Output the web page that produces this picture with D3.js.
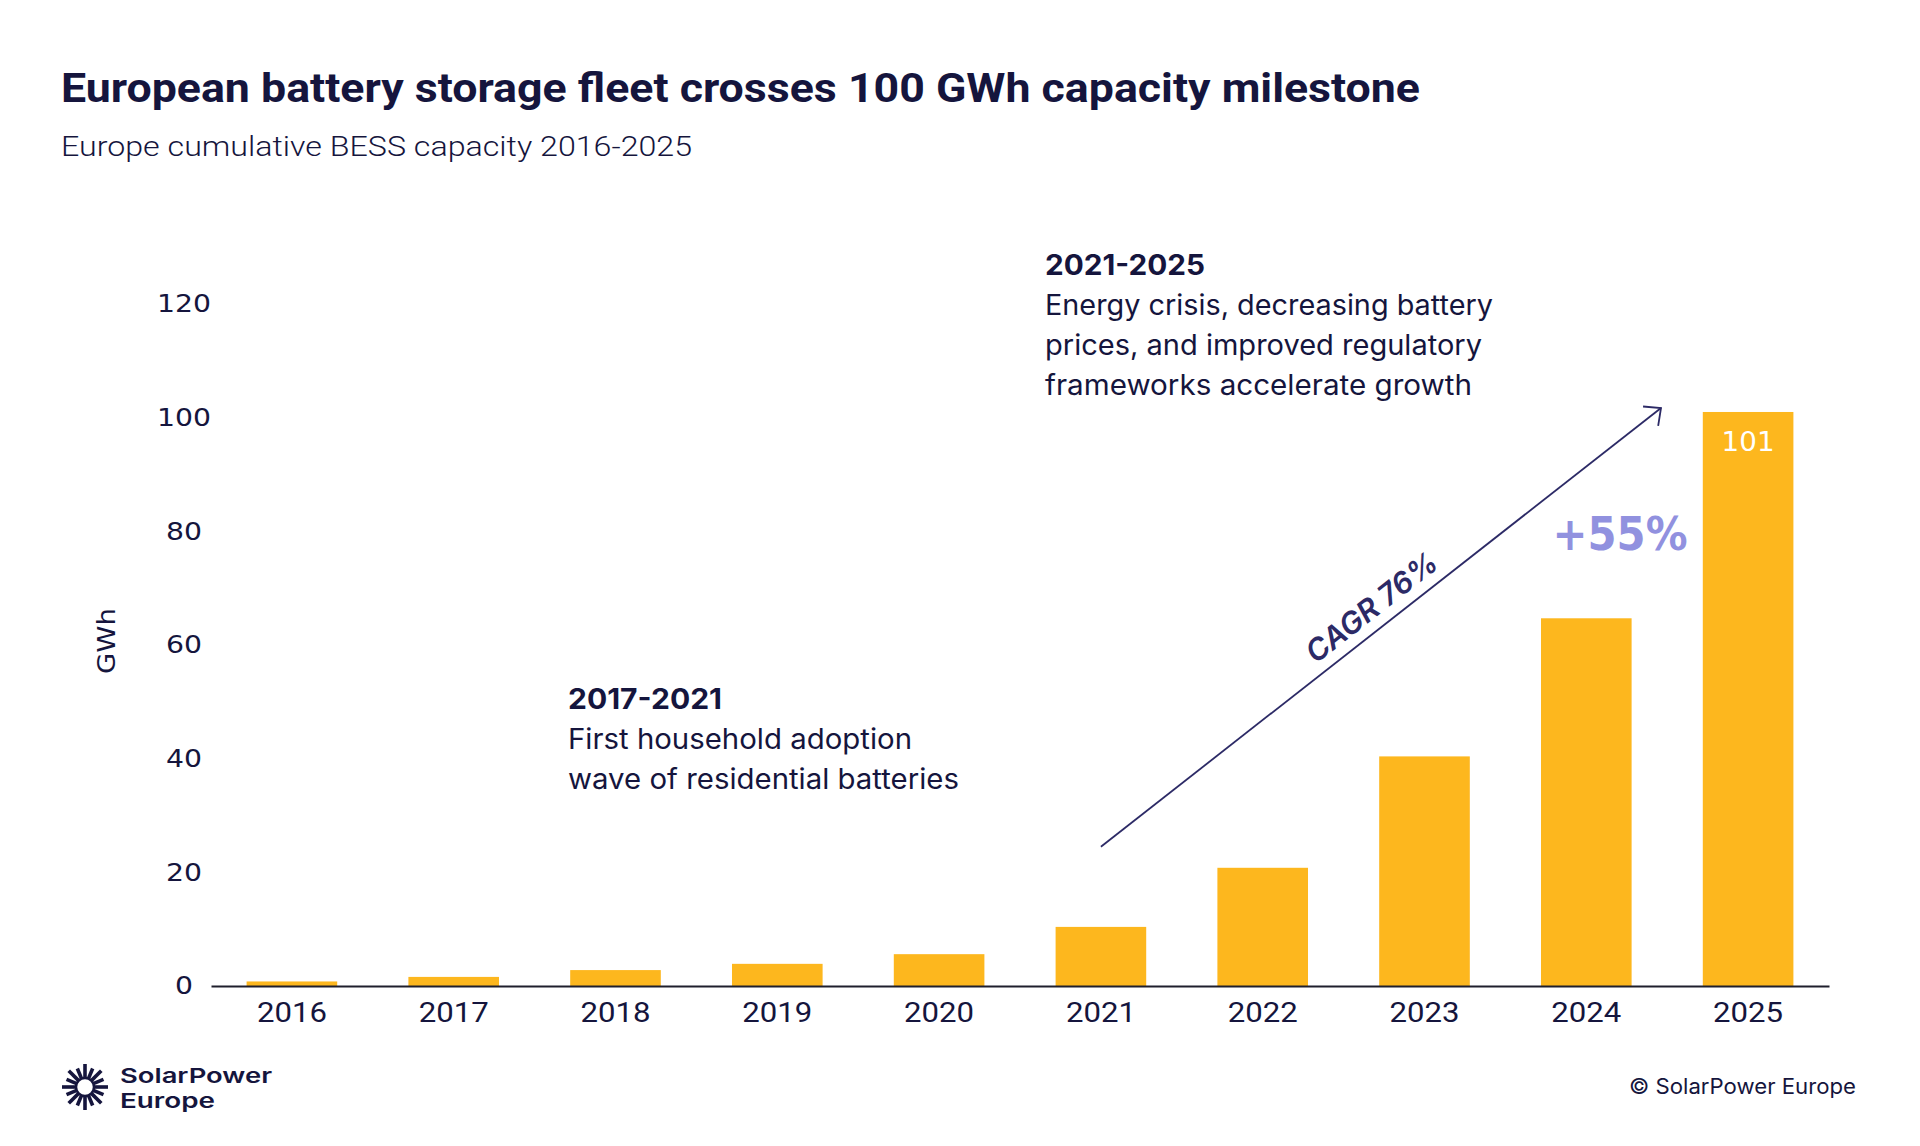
<!DOCTYPE html>
<html>
<head>
<meta charset="utf-8">
<script src="https://cdn.jsdelivr.net/npm/d3@7"></script>
<style>
  html, body { margin: 0; padding: 0; background: #ffffff; }
  svg { display: block; }
</style>
</head>
<body>
<svg id="chart" width="1920" height="1146"></svg>
<script>
// ---- Data ----
const years = ["2016","2017","2018","2019","2020","2021","2022","2023","2024","2025"];
const capacityGWh = [0.8, 1.6, 2.8, 3.9, 5.6, 10.4, 20.8, 40.4, 64.7, 101];
const yTicks = [0, 20, 40, 60, 80, 100, 120];
const labelledYear = "2025";
const labelledValue = "101";
const growthLabel = "+55%";
const cagrLabel = "CAGR 76%";
const title = "European battery storage fleet crosses 100 GWh capacity milestone";
const subtitle = "Europe cumulative BESS capacity 2016-2025";
const yAxisTitle = "GWh";
const note1Head = "2017-2021";
const note1Lines = ["First household adoption", "wave of residential batteries"];
const note2Head = "2021-2025";
const note2Lines = ["Energy crisis, decreasing battery", "prices, and improved regulatory", "frameworks accelerate growth"];
const logoLines = ["SolarPower", "Europe"];
const copyright = "© SolarPower Europe";

// ---- Styles ----
const navy = "#15153d";
const barColor = "#FDB71E";
const arrowColor = "#2c2a66";
const lavender = "#9191df";

const svg = d3.select("#chart");

const x = d3.scaleBand().domain(years).range([211, 1829]).paddingInner(0.44).paddingOuter(0.22);
const y = d3.scaleLinear().domain([0, 120]).range([986, 304]);

function txt(sel, s, opts) {
  const t = sel.append("text").text(s);
  for (const k in opts) t.attr(k, opts[k]);
  return t;
}

// Title & subtitle
txt(svg, title, {x: 61, y: 102, "font-family": "Roboto, Inter, sans-serif", "font-weight": 700,
  "font-size": 40, fill: navy, textLength: 1359, lengthAdjust: "spacingAndGlyphs"});
txt(svg, subtitle, {x: 61, y: 156, "font-family": "Roboto, Inter, sans-serif", "font-weight": 300,
  "font-size": 27, fill: navy, textLength: 631, lengthAdjust: "spacingAndGlyphs"});

// Bars
svg.append("g").selectAll("rect").data(years).join("rect")
  .attr("x", d => x(d))
  .attr("width", x.bandwidth())
  .attr("y", (d, i) => y(capacityGWh[i]))
  .attr("height", (d, i) => y(0) - y(capacityGWh[i]))
  .attr("fill", barColor);

// X axis
const gx = svg.append("g").attr("transform", `translate(0,${y(0)})`)
  .call(d3.axisBottom(x).tickSize(0).tickSizeOuter(0).tickPadding(17));
gx.select(".domain").attr("stroke", "#1f1f2c").attr("stroke-width", 2.2);
gx.selectAll(".tick text")
  .attr("font-family", "Roboto, Inter, sans-serif").attr("font-size", 27).attr("font-weight", 400)
  .attr("fill", navy).attr("dy", "0.71em")
  .attr("textLength", 70).attr("lengthAdjust", "spacingAndGlyphs");

// Y axis labels (no line)
const gy = svg.append("g").attr("transform", "translate(184,0)")
  .call(d3.axisLeft(y).tickValues(yTicks).tickSize(0).tickPadding(0));
gy.select(".domain").remove();
gy.selectAll(".tick text")
  .attr("text-anchor", "middle").attr("x", 0)
  .attr("font-family", "'DejaVu Sans', sans-serif").attr("font-size", 24)
  .attr("fill", navy)
  .attr("textLength", d => String(d).length * 18)
  .attr("lengthAdjust", "spacingAndGlyphs");

// Y axis title
txt(svg, yAxisTitle, {transform: "translate(115,641) rotate(-90)", "text-anchor": "middle",
  "font-family": "'DejaVu Sans', sans-serif", "font-size": 24, fill: navy,
  textLength: 66, lengthAdjust: "spacingAndGlyphs"});

// Value label in 2025 bar
const iLab = years.indexOf(labelledYear);
txt(svg, labelledValue, {x: x(labelledYear) + x.bandwidth() / 2, y: y(capacityGWh[iLab]) + 39,
  "text-anchor": "middle", "font-family": "'DejaVu Sans', sans-serif", "font-size": 26,
  fill: "#ffffff", textLength: 53, lengthAdjust: "spacingAndGlyphs"});

// Growth label
txt(svg, growthLabel, {x: 1620, y: 550, "text-anchor": "middle",
  "font-family": "'DejaVu Sans', sans-serif", "font-weight": 700, "font-size": 46,
  fill: lavender, textLength: 135, lengthAdjust: "spacingAndGlyphs"});

// CAGR arrow: from 2021 bar centre to above 2025
const x0 = x("2021") + x.bandwidth() / 2, y0 = y(24.5);
const x1 = 1661, y1 = y(101.7);
svg.append("line").attr("x1", x0).attr("y1", y0).attr("x2", x1).attr("y2", y1)
  .attr("stroke", arrowColor).attr("stroke-width", 1.8);
const ang = Math.atan2(y1 - y0, x1 - x0);
const back = ang + Math.PI;
const aL = 18, spread = Math.PI / 4.2;
const p1 = [x1 + aL * Math.cos(back + spread), y1 + aL * Math.sin(back + spread)];
const p2 = [x1 + aL * Math.cos(back - spread), y1 + aL * Math.sin(back - spread)];
svg.append("path").attr("d", `M${p1[0]},${p1[1]} L${x1},${y1} L${p2[0]},${p2[1]}`)
  .attr("fill", "none").attr("stroke", arrowColor).attr("stroke-width", 1.8);

// CAGR text along the arrow
const angDeg = ang * 180 / Math.PI;
txt(svg, cagrLabel, {transform: `translate(1373,609) rotate(${angDeg})`, "text-anchor": "middle",
  "dominant-baseline": "middle", "font-family": "Inter, sans-serif", "font-weight": 600,
  "font-style": "italic", "font-size": 30, fill: arrowColor, textLength: 158, lengthAdjust: "spacingAndGlyphs"});

// Annotation blocks
function note(x0, yHead, head, lines, headW, lineWs) {
  txt(svg, head, {x: x0, y: yHead, "font-family": "Inter, sans-serif", "font-weight": 700,
    "font-size": 28, fill: navy, textLength: headW, lengthAdjust: "spacingAndGlyphs"});
  lines.forEach((l, i) => {
    txt(svg, l, {x: x0, y: yHead + 40 * (i + 1), "font-family": "Inter, sans-serif", "font-weight": 400,
      "font-size": 28, fill: navy, textLength: lineWs[i], lengthAdjust: "spacingAndGlyphs"});
  });
}
note(568, 709, note1Head, note1Lines, 154, [344, 391]);
note(1045, 275, note2Head, note2Lines, 160, [448, 437, 427]);

// Logo
const logo = svg.append("g").attr("transform", "translate(85,1087)");
const rays = d3.range(16);
logo.selectAll("line").data(rays).join("line")
  .attr("x1", d => 9 * Math.cos(d * Math.PI / 8))
  .attr("y1", d => 9 * Math.sin(d * Math.PI / 8))
  .attr("x2", d => (d % 2 ? 20 : 23) * Math.cos(d * Math.PI / 8))
  .attr("y2", d => (d % 2 ? 20 : 23) * Math.sin(d * Math.PI / 8))
  .attr("stroke", navy).attr("stroke-width", 3.6);
logo.append("circle").attr("r", 9).attr("fill", "none").attr("stroke", navy).attr("stroke-width", 2.5);
const logoText = svg.append("text")
  .attr("font-family", "Inter, sans-serif").attr("font-weight", 600).attr("font-size", 20.5).attr("fill", navy);
logoText.append("tspan").attr("x", 120).attr("y", 1083).text(logoLines[0])
  .attr("textLength", 152).attr("lengthAdjust", "spacingAndGlyphs");
logoText.append("tspan").attr("x", 120).attr("y", 1108).text(logoLines[1])
  .attr("textLength", 95).attr("lengthAdjust", "spacingAndGlyphs");

// Copyright
txt(svg, copyright, {x: 1856, y: 1094, "text-anchor": "end", "font-family": "Inter, sans-serif",
  "font-weight": 400, "font-size": 21, fill: navy, textLength: 227, lengthAdjust: "spacingAndGlyphs"});
</script>
</body>
</html>
